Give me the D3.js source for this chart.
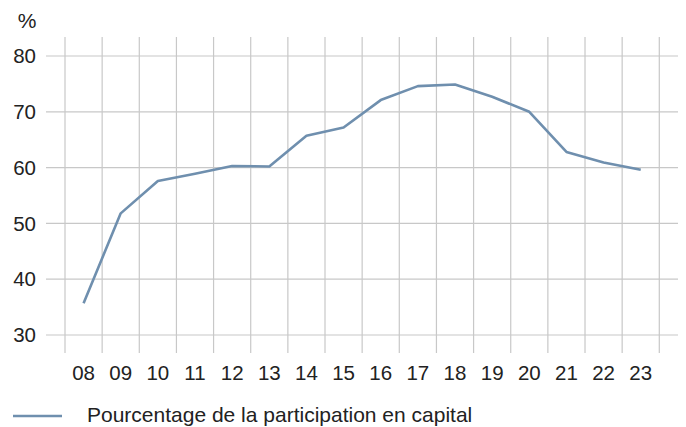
<!DOCTYPE html>
<html>
<head>
<meta charset="utf-8">
<script src="https://cdn.jsdelivr.net/npm/d3@7"></script>
<style>
  body { margin: 0; background: #fff; }
  svg text { font-family: "Liberation Sans", Arial, sans-serif; fill: #222; }
</style>
</head>
<body>
<svg id="chart" width="686" height="427"></svg>
<script>
// data
const years = ["08", "09", "10", "11", "12", "13", "14", "15", "16", "17", "18", "19", "20", "21", "22", "23"];
const share = [35.7, 51.8, 57.6, 58.9, 60.3, 60.2, 65.7, 67.2, 72.1, 74.6, 74.9, 72.7, 70.0, 62.8, 60.9, 59.6];
const yTicks = [30, 40, 50, 60, 70, 80];
const seriesLabel = "Pourcentage de la participation en capital";

const svg = d3.select("#chart");

const x = d3.scaleBand().domain(years).range([65, 659.3]).padding(0);
const y = d3.scaleLinear().domain([30, 80]).range([335, 56]);

const grid = svg.append("g").attr("class", "grid");

// horizontal gridlines
grid.selectAll("line.h")
  .data(yTicks)
  .join("line")
  .attr("class", "h")
  .attr("x1", 46)
  .attr("x2", 678)
  .attr("y1", d => y(d))
  .attr("y2", d => y(d))
  .attr("stroke", "#c8c8c8")
  .attr("stroke-width", 1.2);

// vertical gridlines on band edges
const edges = years.map(d => x(d)).concat([x(years[years.length - 1]) + x.bandwidth()]);
grid.selectAll("line.v")
  .data(edges)
  .join("line")
  .attr("class", "v")
  .attr("x1", d => d)
  .attr("x2", d => d)
  .attr("y1", 37)
  .attr("y2", 353)
  .attr("stroke", "#c8c8c8")
  .attr("stroke-width", 1.2);

// y labels
svg.append("g")
  .selectAll("text")
  .data(yTicks)
  .join("text")
  .attr("x", 36)
  .attr("y", d => y(d))
  .attr("dy", "0.35em")
  .attr("text-anchor", "end")
  .style("font-size", "20.5px")
  .text(d => d);

svg.append("text")
  .attr("x", 27)
  .attr("y", 28)
  .attr("text-anchor", "middle")
  .style("font-size", "21px")
  .text("%");

// x labels
svg.append("g")
  .selectAll("text")
  .data(years)
  .join("text")
  .attr("x", d => x(d) + x.bandwidth() / 2)
  .attr("y", 380)
  .attr("text-anchor", "middle")
  .style("font-size", "20.5px")
  .text(d => d);

// the line
const line = d3.line()
  .x((d, i) => x(years[i]) + x.bandwidth() / 2)
  .y(d => y(d));

svg.append("path")
  .datum(share)
  .attr("d", line)
  .attr("fill", "none")
  .attr("stroke", "#6f8fae")
  .attr("stroke-width", 2.6)
  .attr("stroke-linejoin", "round");

// legend
svg.append("line")
  .attr("x1", 13)
  .attr("x2", 62)
  .attr("y1", 416)
  .attr("y2", 416)
  .attr("stroke", "#6f8fae")
  .attr("stroke-width", 2.6);

svg.append("text")
  .attr("x", 87)
  .attr("y", 422)
  .style("font-size", "21px")
  .text(seriesLabel);
</script>
</body>
</html>
